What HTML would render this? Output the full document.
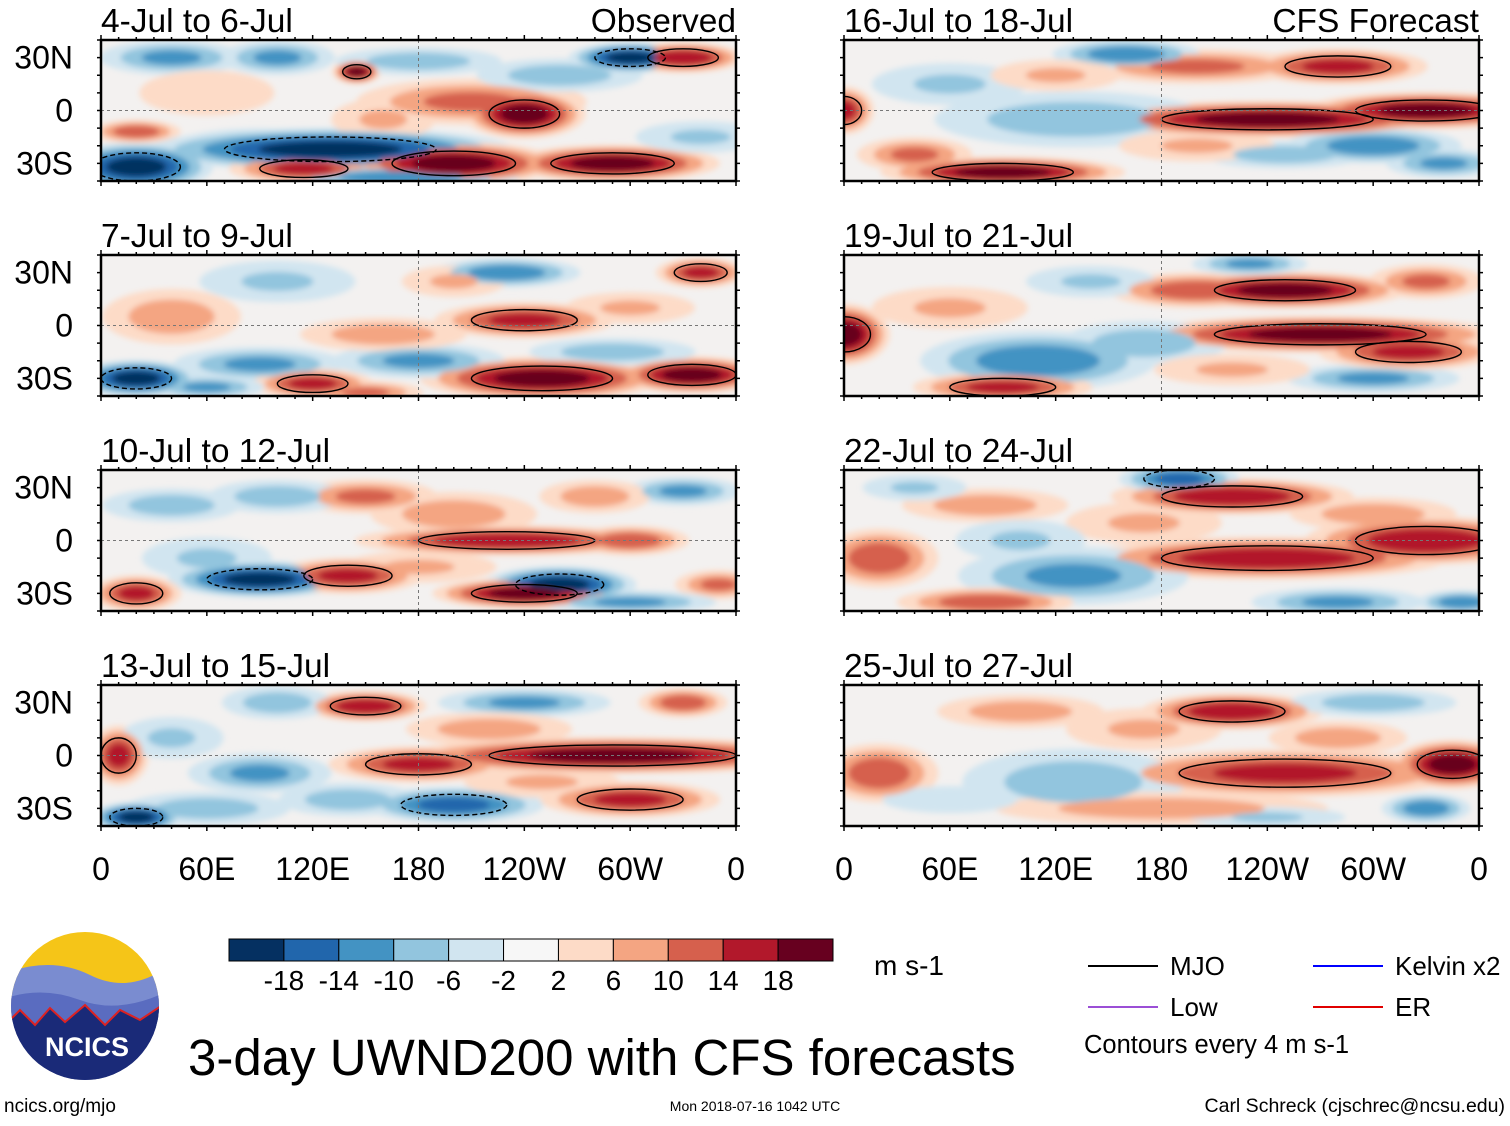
<!DOCTYPE html>
<html><head><meta charset="utf-8"><style>
html,body{margin:0;padding:0;background:#fff;}
body{width:1510px;height:1121px;overflow:hidden;font-family:"Liberation Sans",sans-serif;}
</style></head><body>
<svg id="root" width="1510" height="1121" viewBox="0 0 1510 1121" xmlns="http://www.w3.org/2000/svg">
<defs><filter id="blur" x="-50%" y="-50%" width="200%" height="200%"><feGaussianBlur stdDeviation="3"/></filter></defs>
</svg>
<script>
// colour scale data
const levels = [-18,-14,-10,-6,-2,2,6,10,14,18];
const colors = ["#053061","#2166ac","#4393c3","#92c5de","#d1e5f0","#f7f7f7","#fddbc7","#f4a582","#d6604d","#b2182b","#67001f"];
const lonTicks = ["0","60E","120E","180","120W","60W","0"];
const latTicks = ["30N","0","30S"];
const latVals = [30,0,-30];
const titles = ["4-Jul to 6-Jul","7-Jul to 9-Jul","10-Jul to 12-Jul","13-Jul to 15-Jul","16-Jul to 18-Jul","19-Jul to 21-Jul","22-Jul to 24-Jul","25-Jul to 27-Jul"];
// anomaly blobs per panel: [lon, lat, value(m/s), halfwidth lon, halfwidth lat]
const blobs = [
 [[20,-32,-18,25,8],[130,-22,-18,60,7],[90,-20,-10,30,6],[200,-30,18,35,7],[290,-30,18,35,6],[115,-33,14,25,5],[210,5,10,40,8],[240,-2,18,20,8],[145,22,18,8,4],[300,30,-18,20,5],[330,30,16,20,5],[40,30,-10,25,6],[180,28,-8,30,5],[20,-12,12,15,4],[100,30,-10,20,6],[260,20,-8,30,6],[60,10,4,30,10],[160,-5,6,20,8],[340,-15,-6,25,6],[170,-38,-12,40,4]],
 [[20,-30,-18,20,6],[250,-30,18,40,7],[335,-28,18,25,6],[90,-22,-10,30,6],[180,-20,-10,30,6],[240,3,14,30,6],[160,-5,8,30,6],[40,5,8,25,10],[230,30,-12,25,5],[340,30,14,15,5],[120,-33,14,20,5],[290,-15,-8,30,5],[100,25,-6,30,8],[200,25,6,20,6],[300,10,6,25,6],[60,-35,-10,20,4],[150,-38,10,20,4]],
 [[90,-22,-18,30,6],[260,-25,-18,25,6],[230,0,16,50,5],[240,-30,18,30,5],[140,-20,14,25,6],[300,0,12,20,5],[150,25,10,25,6],[330,28,-10,20,5],[20,-30,14,15,6],[40,20,-8,25,6],[350,-25,10,15,5],[100,25,-8,25,6],[200,15,8,30,8],[180,-15,6,30,6],[60,-10,-6,25,8],[300,-35,-10,30,4],[280,25,8,20,6]],
 [[290,0,18,70,6],[180,-5,14,30,6],[90,-10,-10,25,7],[150,28,16,20,5],[20,-35,-18,15,5],[200,-28,-14,30,6],[300,-25,14,30,6],[10,0,14,10,10],[240,30,-10,30,5],[60,-30,-8,30,6],[100,30,-8,20,6],[330,30,12,15,5],[220,15,8,30,6],[140,-25,-8,25,6],[250,-15,6,30,6],[40,10,-6,20,8]],
 [[240,-5,18,60,6],[330,0,18,40,6],[0,0,14,10,8],[90,-35,18,40,5],[130,-5,-8,50,10],[200,25,10,40,6],[160,32,-12,25,5],[300,-20,-12,30,6],[40,-25,10,20,6],[280,25,14,30,6],[60,15,-6,30,8],[250,-25,-8,30,5],[340,-30,-10,20,5],[200,-20,6,30,6],[120,20,6,25,6]],
 [[270,-5,18,60,6],[250,20,18,40,6],[0,-5,18,15,10],[110,-20,-12,40,10],[170,-10,-8,30,8],[200,20,12,30,6],[90,-35,14,30,5],[300,-30,-10,30,5],[320,-15,14,30,6],[60,10,6,30,8],[140,25,-6,25,6],[230,35,-10,20,4],[330,25,10,20,6],[220,-25,6,30,6]],
 [[240,-10,16,60,7],[220,25,16,40,6],[330,0,16,40,8],[130,-20,-10,40,10],[20,-10,12,20,10],[190,35,-14,20,5],[80,-35,12,30,5],[280,-35,-10,30,5],[80,20,8,30,6],[170,10,6,30,8],[300,15,8,30,6],[100,0,-6,25,8],[350,-35,-12,15,4],[40,30,-6,20,5]],
 [[250,-10,14,60,8],[220,25,16,30,6],[345,-5,18,20,8],[130,-15,-8,40,12],[20,-10,12,20,10],[180,-30,8,60,6],[330,-30,-12,15,5],[100,25,8,30,6],[300,30,-8,30,5],[170,15,6,30,8],[60,-25,-4,30,6],[280,10,8,25,6],[240,-35,-6,30,4]]
];
const svg = document.getElementById('root');
const NS = "http://www.w3.org/2000/svg";
function mk(tag, attrs, parent){const e=document.createElementNS(NS,tag);for(const k in attrs)e.setAttribute(k,attrs[k]);(parent||svg).appendChild(e);return e;}
function colorFor(v){let i=0;while(i<levels.length&&v>levels[i])i++;return colors[i];}
const colX=[101,844], W=635, rowY=[40,255,470,685], H=141, SC=1.7;
for(let p=0;p<8;p++){
  const x0=colX[p<4?0:1], y0=rowY[p%4];
  const xs=lon=>x0+lon/360*W, ys=lat=>y0+(40-lat)/80*H;
  const g=mk('g',{});
  
  
  const cid='clip'+p;
  const cp=mk('clipPath',{id:cid},g); mk('rect',{x:x0,y:y0,width:W,height:H},cp);
  const inner=mk('g',{'clip-path':'url(#'+cid+')'},g);
  mk('rect',{x:x0,y:y0,width:W,height:H,fill:'#f3f1f0'},inner);
  const bg=mk('g',{filter:'url(#blur)'},inner);
  const order=[2,6,10,14,18];
  order.forEach(s=>{
    blobs[p].forEach(b=>{
      const [lon,lat,v,rl,rt]=b;
      const mag=Math.abs(v);
      if(s>mag) return;
      const f=s/mag;
      const k=SC*(1.1-f*0.7);
      const e=mk('ellipse',{cx:xs(lon),cy:ys(lat),rx:rl/360*W*k,ry:rt/80*H*k,fill:colorFor(Math.sign(v)*(s+0.5))},bg);
      
      
    });
  });
  blobs[p].filter(b=>Math.abs(b[2])>=14).forEach(b=>{
    const c=mk('ellipse',{cx:xs(b[0]),cy:ys(b[1]),rx:b[3]/360*W*1.0,ry:b[4]/80*H*1.0,fill:'none',stroke:'#000','stroke-width':1.4,'stroke-dasharray':b[2]<0?'5,3':'none'},inner);
    
    
  });
  mk('line',{x1:x0,x2:x0+W,y1:ys(0),y2:ys(0),stroke:'#777','stroke-dasharray':'3,3','stroke-width':1},inner);
  mk('line',{x1:xs(180),x2:xs(180),y1:y0,y2:y0+H,stroke:'#777','stroke-dasharray':'3,3','stroke-width':1},inner);
  const fr=mk('rect',{x:x0,y:y0,width:W,height:H,fill:'none',stroke:'#000','stroke-width':2.5},g);
  
  
  for(let l=0;l<=360;l+=10){const big=l%60==0;
    mk('line',{x1:xs(l),x2:xs(l),y1:y0,y2:y0-(big?5:3),stroke:'#000','stroke-width':1.5},g);
    mk('line',{x1:xs(l),x2:xs(l),y1:y0+H,y2:y0+H+(big?5:3),stroke:'#000','stroke-width':1.5},g);}
  for(let la=-40;la<=40;la+=10){mk('line',{x1:x0-4,x2:x0,y1:ys(la),y2:ys(la),stroke:'#000','stroke-width':1.5},g);mk('line',{x1:x0+W,x2:x0+W+4,y1:ys(la),y2:ys(la),stroke:'#000','stroke-width':1.5},g);}
  const t=mk('text',{x:x0,y:y0-8,'font-size':33.5,fill:'#000'},g); t.textContent=titles[p];
  
  
  if(p<4){latTicks.forEach((s,i)=>{const tt=mk('text',{x:73,y:ys(latVals[i])+11,'font-size':32,'text-anchor':'end'},g);tt.textContent=s;
    
    });}
  if(p==3||p==7){lonTicks.forEach((s,i)=>{const tt=mk('text',{x:xs(i*60),y:880,'font-size':32,'text-anchor':'middle'},g);tt.textContent=s;
    
    });}
}
const obs=mk('text',{x:736,y:32,'font-size':33.5,'text-anchor':'end'}); obs.textContent='Observed';


const cfs=mk('text',{x:1479,y:32,'font-size':33.5,'text-anchor':'end'}); cfs.textContent='CFS Forecast';


// colorbar
const cb=mk('g',{});


const bw=604/colors.length;
colors.forEach((c,i)=>{const r=mk('rect',{x:229+i*bw,y:939,width:bw,height:22,fill:c,stroke:'#000','stroke-width':1},cb);
  
  });
levels.forEach((l,i)=>{const t=mk('text',{x:229+(i+1)*bw,y:990,'font-size':28,'text-anchor':'middle'},cb);t.textContent=l;
  
  });
function txt(x,y,s,size,name,anchor){const t=mk('text',{x:x,y:y,'font-size':size,'text-anchor':anchor||'start'});t.textContent=s;
  
  return t;}
txt(874,975,'m s-1',28,'units-label');
txt(188,1075,'3-day UWND200 with CFS forecasts',51,'main-title');
txt(4,1112,'ncics.org/mjo',19,'site-url');
txt(755,1111,'Mon 2018-07-16 1042 UTC',14,'timestamp','middle');
txt(1505,1112,'Carl Schreck (cjschrec@ncsu.edu)',19.5,'author','end');
txt(1084,1053,'Contours every 4 m s-1',25.5,'contour-note');
// legend
const lg=[['MJO','#000',1088,966],['Kelvin x2','#0000ff',1313,966],['Low','#9b4fd6',1088,1007],['ER','#e00000',1313,1007]];
lg.forEach(L=>{mk('line',{x1:L[2],x2:L[2]+70,y1:L[3],y2:L[3],stroke:L[1],'stroke-width':2});txt(L[2]+82,L[3]+9,L[0],26,'legend-entry');});
// logo
const lgo=mk('g',{});


const lc=mk('clipPath',{id:'lc'},lgo); mk('circle',{cx:85,cy:1006,r:74},lc);
const lgi=mk('g',{'clip-path':'url(#lc)'},lgo);
mk('rect',{x:0,y:930,width:170,height:160,fill:'#f5c518'},lgi);
mk('path',{d:'M0 975 Q50 955 90 975 T170 965 V1090 H0Z',fill:'#7a8cd0'},lgi);
mk('path',{d:'M0 1000 Q40 985 80 1000 T170 990 V1090 H0Z',fill:'#5a6cc0'},lgi);
mk('path',{d:'M0 1030 L20 1010 L35 1025 L50 1008 L65 1022 L85 1005 L105 1025 L120 1010 L140 1020 L170 1000 V1090 H0Z',fill:'#1a2a78',stroke:'#d22','stroke-width':2},lgi);
const nt=mk('text',{x:87,y:1056,'font-size':27,'font-weight':'bold',fill:'#fff','text-anchor':'middle'},lgo);nt.textContent='NCICS';
</script>
</body></html>
